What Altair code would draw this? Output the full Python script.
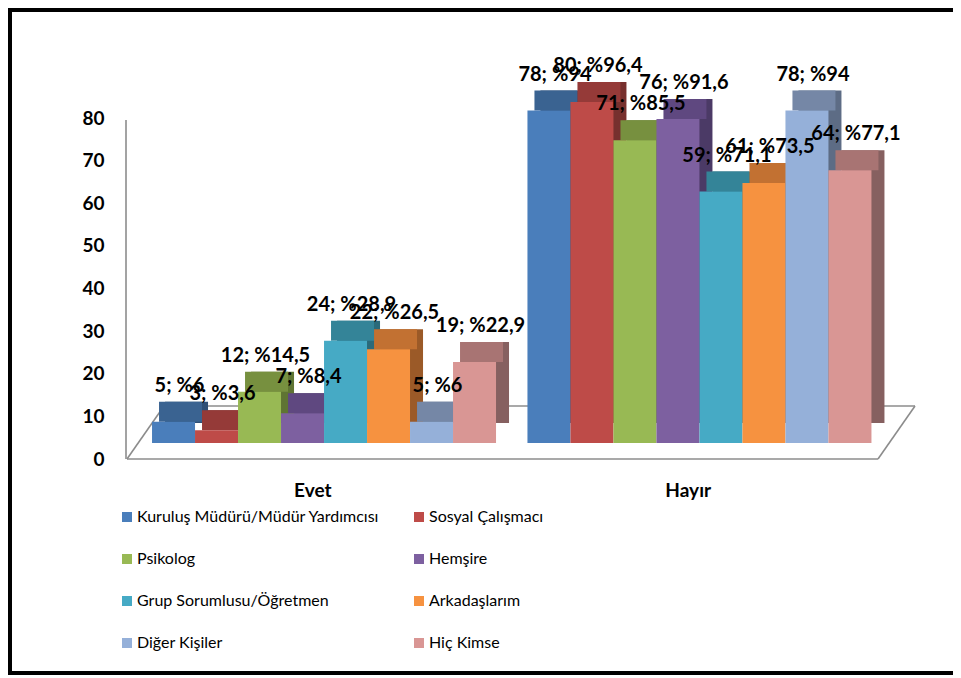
import altair as alt
import pandas as pd

groups = ["Evet", "Hayır"]
series = ["Kuruluş Müdürü/Müdür Yardımcısı", "Sosyal Çalışmacı", "Psikolog", "Hemşire",
          "Grup Sorumlusu/Öğretmen", "Arkadaşlarım", "Diğer Kişiler", "Hiç Kimse"]
evet_counts = [5, 3, 12, 7, 24, 22, 5, 19]
evet_pct = [6, 3.6, 14.5, 8.4, 28.9, 26.5, 6, 22.9]
hayir_counts = [78, 80, 71, 76, 59, 61, 78, 64]
hayir_pct = [94, 96.4, 85.5, 91.6, 71.1, 73.5, 94, 77.1]
y_ticks = [0, 10, 20, 30, 40, 50, 60, 70, 80]

front_colors = ["#4A7EBB", "#BE4B48", "#98B954", "#7D60A0", "#46AAC5", "#F69240", "#95B0D9", "#D99694"]
top_colors = ["#3A6391", "#953A38", "#77903F", "#5F4880", "#348498", "#C27132", "#7587A6", "#A87473"]
side_colors = ["#2E4F75", "#77302E", "#5F7433", "#4B3A66", "#2A6A7A", "#9B5A28", "#5D6C85", "#866060"]


def fmt(p):
    s = f"{p:g}"
    return s.replace(".", ",")


rows = []
for g, counts, pcts in [("Evet", evet_counts, evet_pct), ("Hayır", hayir_counts, hayir_pct)]:
    for s, c, p in zip(series, counts, pcts):
        rows.append({"group": g, "series": s, "value": c, "label": f"{c}; %{fmt(p)}"})
df = pd.DataFrame(rows)

FONT = "Lato"
BW = 344
x_enc = alt.X("group:N", sort=groups, title=None,
              scale=alt.Scale(paddingInner=0.085, paddingOuter=0.064),
              axis=alt.Axis(labelAngle=0, domain=False, ticks=False, labelPadding=38,
                            labelOffset=-11, labelFont=FONT, labelFontSize=19,
                            labelFontWeight="bold", labelColor="black"))


def xo(shift):
    return alt.XOffset("series:N", sort=series,
                       scale=alt.Scale(domain=series, range=[shift, BW + shift]))


y_scale = alt.Scale(domain=[0, 80], nice=False, zero=True)
y_enc = alt.Y("value:Q", scale=y_scale, title=None,
              axis=alt.Axis(values=y_ticks, domain=False, ticks=False, grid=False,
                            labelPadding=24, labelOffset=16, labelFont=FONT,
                            labelFontSize=19, labelFontWeight="bold", labelColor="black"))

base = alt.Chart(df)
one = alt.Chart(pd.DataFrame({"k": [0]}))
LINE = "#8C8C8C"


def seg(x1, y1, x2, y2):
    return one.mark_rule(color=LINE, strokeWidth=1.6).encode(
        x=alt.value(x1), y=alt.value(y1), x2=alt.value(x2), y2=alt.value(y2))


floor = [
    seg(-1, 357, 750, 357),
    seg(750, 357, 787, 304),
    seg(36, 304, 787, 304),
    seg(-1, 357, 36, 304),
    seg(-2, 18, -2, 357),
]

side = base.mark_bar(yOffset=-20, y2Offset=-20, strokeWidth=0).encode(
    x=x_enc, xOffset=xo(13), y=y_enc, y2=alt.datum(0),
    color=alt.Color("series:N", sort=series, legend=None,
                    scale=alt.Scale(domain=series, range=side_colors)))

top = base.mark_bar(yOffset=-20, y2Offset=0, strokeWidth=0).encode(
    x=x_enc, xOffset=xo(7), y=y_enc, y2=alt.Y2("value:Q"),
    color=alt.Color("series:N", sort=series, legend=None,
                    scale=alt.Scale(domain=series, range=top_colors)))

front = base.mark_bar(strokeWidth=0).encode(
    x=x_enc, xOffset=xo(0), y=y_enc, y2=alt.datum(0),
    color=alt.Color("series:N", sort=series, title=None,
                    scale=alt.Scale(domain=series, range=front_colors),
                    legend=alt.Legend(orient="none", legendX=-9, legendY=407, columns=2,
                                      direction="horizontal",
                                      symbolType="square", symbolSize=100, symbolStrokeWidth=0,
                                      labelFont=FONT, labelFontSize=16, labelColor="black",
                                      labelOffset=2, rowPadding=26, columnPadding=31,
                                      labelLimit=0, padding=0)))

text = base.mark_text(font=FONT, fontSize=20, fontWeight="bold", color="black",
                      dy=-36, dx=6, baseline="middle").encode(
    x=x_enc, xOffset=xo(0), y=y_enc, text="label:N")

frame = one.mark_rect(filled=False, stroke="black", strokeWidth=4).encode(
    x=alt.value(-118), x2=alt.value(840), y=alt.value(-92), y2=alt.value(571))

chart = alt.layer(frame, *floor, side, top, front, text).resolve_scale(
    xOffset="independent", color="independent"
).properties(
    width=767, height=341,
    autosize=alt.AutoSizeParams(type="none"),
    padding={"left": 120, "top": 94, "right": 58, "bottom": 233},
    background="white",
).configure_view(stroke=None)

chart.save("out.html", embed_options={"renderer": "svg", "actions": False})
